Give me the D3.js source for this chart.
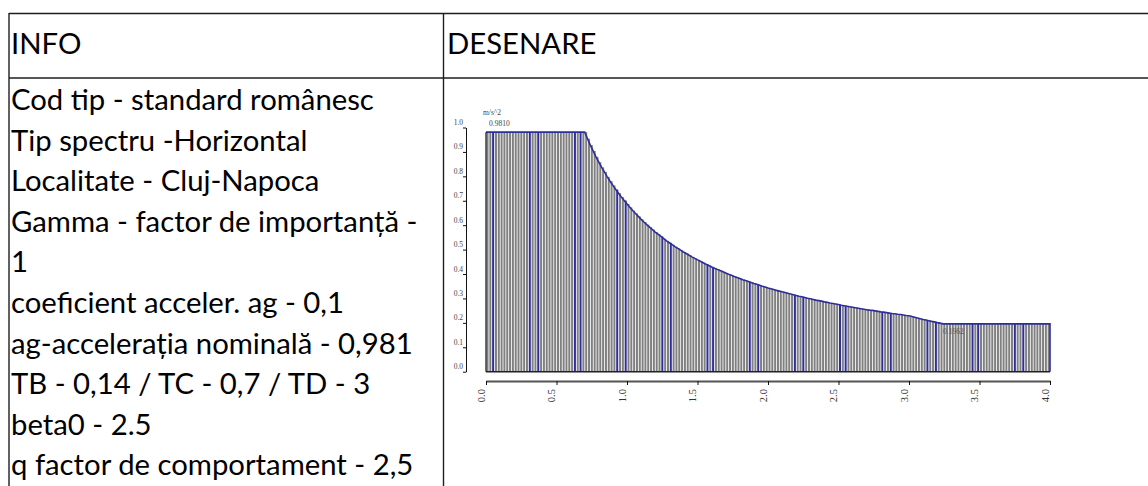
<!DOCTYPE html>
<html>
<head>
<meta charset="utf-8">
<script src="https://cdn.jsdelivr.net/npm/d3@7"></script>
<style>
  body { margin: 0; background: #fff; }
  svg { display: block; }
</style>
</head>
<body>
<svg id="page" width="1148" height="486"></svg>
<script>
// table text
const headers = ["INFO", "DESENARE"];
const infoLines = [
  "Cod tip - standard românesc",
  "Tip spectru -Horizontal",
  "Localitate - Cluj-Napoca",
  "Gamma - factor de importanță -",
  "1",
  "coeficient acceler. ag - 0,1",
  "ag-accelerația nominală - 0,981",
  "TB - 0,14 / TC - 0,7 / TD - 3",
  "beta0 - 2.5",
  "q factor de comportament - 2,5"
];

// spectrum bars, one every 0.02 s (m/s^2)
const periodStep = 0.02;
const spectrum = [
  0.981, 0.981, 0.981, 0.981, 0.981, 0.981, 0.981, 0.981, 0.981, 0.981,
  0.981, 0.981, 0.981, 0.981, 0.981, 0.981, 0.981, 0.981, 0.981, 0.981,
  0.981, 0.981, 0.981, 0.981, 0.981, 0.981, 0.981, 0.981, 0.981, 0.981,
  0.981, 0.981, 0.981, 0.981, 0.981, 0.981,
  0.954, 0.928, 0.904, 0.880, 0.858, 0.837, 0.818, 0.798, 0.780, 0.763,
  0.746, 0.731, 0.715, 0.701, 0.687, 0.673, 0.660, 0.648, 0.636, 0.624,
  0.613, 0.602, 0.592, 0.582, 0.572, 0.563, 0.554, 0.545, 0.536, 0.528,
  0.520, 0.512, 0.505, 0.498, 0.490, 0.484, 0.477, 0.470, 0.464, 0.458,
  0.452, 0.446, 0.440, 0.435, 0.429, 0.424, 0.419, 0.414, 0.409, 0.404,
  0.399, 0.395, 0.390, 0.386, 0.382, 0.377, 0.373, 0.369, 0.365, 0.361,
  0.358, 0.354, 0.350, 0.347, 0.343, 0.340, 0.337, 0.333, 0.330, 0.327,
  0.324, 0.321, 0.318, 0.315, 0.312, 0.309, 0.307, 0.304, 0.301, 0.299,
  0.296, 0.293, 0.291, 0.289, 0.286, 0.284, 0.281, 0.279, 0.277, 0.275,
  0.272, 0.270, 0.268, 0.266, 0.264, 0.262, 0.260, 0.258, 0.256, 0.254,
  0.252, 0.251, 0.249, 0.247, 0.245, 0.244, 0.242, 0.240, 0.238, 0.237,
  0.235, 0.234, 0.232, 0.230, 0.229, 0.226, 0.223, 0.220, 0.217, 0.214,
  0.212, 0.209, 0.206, 0.204, 0.201, 0.199, 0.196,
  0.196, 0.196, 0.196, 0.196, 0.196, 0.196, 0.196, 0.196, 0.196, 0.196,
  0.196, 0.196, 0.196, 0.196, 0.196, 0.196, 0.196, 0.196, 0.196, 0.196,
  0.196, 0.196, 0.196, 0.196, 0.196, 0.196, 0.196, 0.196, 0.196, 0.196,
  0.196, 0.196, 0.196, 0.196, 0.196, 0.196, 0.196
];
const xTicks = [0, 0.5, 1, 1.5, 2, 2.5, 3, 3.5, 4];
const yTicks = [0, 0.1, 0.2, 0.3, 0.4, 0.5, 0.6, 0.7, 0.8, 0.9, 1.0];
const unitLabel = "m/s^2";
const peakLabel = "0.9810";
const floorLabel = "0.1962";

const svg = d3.select("#page");
svg.append("rect").attr("width", 1148).attr("height", 486).attr("fill", "#fff");

// ---- table ----
const grid = svg.append("g").attr("stroke", "#1e1e1e").attr("stroke-width", 1.4);
grid.append("line").attr("x1", 9).attr("x2", 1148).attr("y1", 13.5).attr("y2", 13.5);
grid.append("line").attr("x1", 9).attr("x2", 1148).attr("y1", 78).attr("y2", 78);
grid.append("line").attr("x1", 9).attr("x2", 9).attr("y1", 13).attr("y2", 486);
grid.append("line").attr("x1", 443.5).attr("x2", 443.5).attr("y1", 13).attr("y2", 486);

const textFont = "Lato, 'Open Sans', sans-serif";
// fit font size so the first info line has the width seen in the picture
const probe = svg.append("text").attr("font-family", textFont).attr("font-size", 30).text(infoLines[0]);
const fs = 30 * 363 / probe.node().getComputedTextLength();
probe.remove();

svg.selectAll(".hdr").data(headers).enter().append("text")
  .attr("class", "hdr")
  .attr("x", (d, i) => i === 0 ? 11 : 447)
  .attr("y", 54)
  .attr("font-family", textFont).attr("font-size", fs).attr("fill", "#000")
  .text(d => d);

svg.selectAll(".info").data(infoLines).enter().append("text")
  .attr("class", "info")
  .attr("x", 11)
  .attr("y", (d, i) => 110 + i * 40.6)
  .attr("font-family", textFont).attr("font-size", fs).attr("fill", "#000")
  .text(d => d);

// ---- chart ----
const x = d3.scaleLinear().domain([0, 4]).range([486, 1050]);
const y = d3.scaleLinear().domain([0, 1]).range([371.7, 127.5]);
const blue = "#2d2d9b";
const chartFont = "'Liberation Serif', 'DejaVu Serif', serif";

const bars = spectrum.map((v, i) => ({ t: i * periodStep, v: v, i: i }));

// moiré-looking blue outlines of the original bitmap
const isBlue = d => {
  const p = (d.i + 1) % 15.65;
  return p < 1 || (p >= 2.5 && p < 3.5);
};

const chart = svg.append("g");
chart.selectAll(".bar")
  .data(bars)
  .enter().append("rect")
    .attr("class", "bar")
    .attr("x", d => x(d.t) + 0.5)
    .attr("width", 2.0)
    .attr("y", d => y(d.v))
    .attr("height", d => y(0) - y(d.v))
    .attr("fill", d => isBlue(d) ? blue : "#808080");

// top outline
const outline = bars.map(d => [d.t, d.v]);
outline.push([4, bars[bars.length - 1].v]);
outline.push([4, 0]);
chart.append("path")
  .attr("d", d3.line().x(d => x(d[0])).y(d => y(d[1]))(outline))
  .attr("fill", "none").attr("stroke", blue).attr("stroke-width", 1.6);

// left edge and baseline
chart.append("line")
  .attr("x1", x(0)).attr("x2", x(0)).attr("y1", y(0)).attr("y2", y(spectrum[0]))
  .attr("stroke", "#111").attr("stroke-width", 1.2);
chart.append("line")
  .attr("x1", x(0)).attr("x2", x(4)).attr("y1", y(0)).attr("y2", y(0))
  .attr("stroke", "#222").attr("stroke-width", 1.6);

// y axis
const yAxis = svg.append("g").attr("transform", "translate(466,0)")
  .call(d3.axisLeft(y).tickValues(yTicks).tickSize(3).tickSizeOuter(0).tickFormat(d3.format(".1f")));
yAxis.select(".domain").attr("stroke", "#111");
yAxis.selectAll(".tick line").attr("stroke", "#111");
yAxis.selectAll("text")
  .attr("font-family", chartFont).attr("font-size", 7.5).attr("fill", "#444")
  .attr("x", -3).attr("dy", "-0.4em");

// x axis
const xAxis = svg.append("g").attr("transform", "translate(0,381)")
  .call(d3.axisBottom(x).tickValues(xTicks).tickSize(4).tickSizeOuter(0).tickFormat(d3.format(".1f")));
xAxis.select(".domain").attr("stroke", "#555").attr("stroke-width", 2.2);
xAxis.selectAll(".tick line").attr("stroke", "#111");
xAxis.selectAll("text")
  .attr("font-family", chartFont).attr("font-size", 10.5).attr("fill", "#333")
  .attr("text-anchor", "end")
  .attr("transform", "rotate(-90)")
  .attr("x", -8).attr("y", -2).attr("dy", 0);

// labels
svg.append("text").attr("x", 483).attr("y", 115)
  .attr("font-family", chartFont).attr("font-size", 7.5).attr("fill", "#444").text(unitLabel);
svg.append("text").attr("x", 489).attr("y", 126)
  .attr("font-family", chartFont).attr("font-size", 7.5).attr("fill", "#444").text(peakLabel);
svg.append("text").attr("x", 943).attr("y", 334)
  .attr("font-family", chartFont).attr("font-size", 7.5).attr("fill", "#555").text(floorLabel);
</script>
</body>
</html>
